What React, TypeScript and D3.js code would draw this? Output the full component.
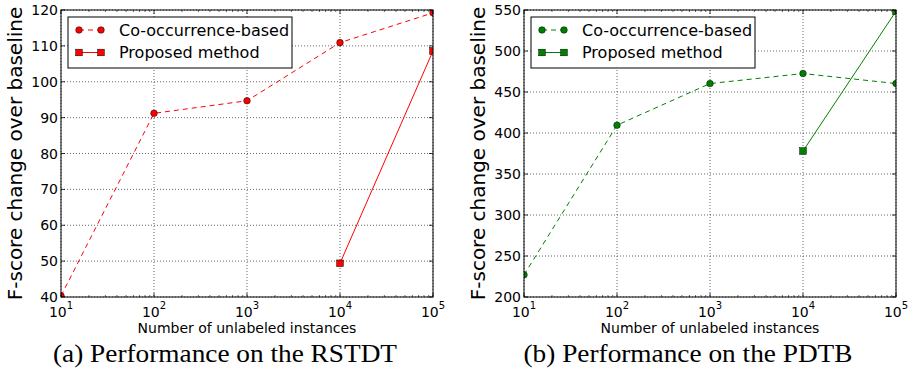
import React from 'react';
import * as d3 from 'd3';

// x positions: number of unlabeled instances (log scale)
const instanceCounts = [10, 100, 1000, 10000, 100000];
const xTickExponents = [1, 2, 3, 4, 5];
const proposedCounts = [10000, 100000];

// (a) RSTDT
const rstdtCooccurrence = [40.3, 91.2, 94.7, 110.9, 119.2];
const rstdtProposed = [49.4, 108.6];
const rstdtYTicks = [40, 50, 60, 70, 80, 90, 100, 110, 120];

// (b) PDTB
const pdtbCooccurrence = [227, 409.5, 460.3, 472.5, 460.3];
const pdtbProposed = [378, 548.5];
const pdtbYTicks = [200, 250, 300, 350, 400, 450, 500, 550];

const seriesLabels = ['Co-occurrence-based', 'Proposed method'];
const captions = ['(a) Performance on the RSTDT', '(b) Performance on the PDTB'];
const xLabel = 'Number of unlabeled instances';
const yLabel = 'F-score change over baseline';

const SANS = 'DejaVu Sans, sans-serif';
const SERIF = 'Liberation Serif, DejaVu Serif, serif';

interface PanelProps {
  id: string;
  left: number;
  color: string;
  cooc: number[];
  proposed: number[];
  yTicks: number[];
  caption: string;
  captionX: number;
  captionWidth: number;
}

const Panel: React.FC<PanelProps> = ({ id, left, color, cooc, proposed, yTicks, caption, captionX, captionWidth }) => {
  const top = 10;
  const width = 372;
  const height = 287;
  const right = left + width;
  const bottom = top + height;

  const x = d3.scaleLog().domain([10, 100000]).range([left, right]);
  const y = d3.scaleLinear().domain([yTicks[0], yTicks[yTicks.length - 1]]).range([bottom, top]);

  const minorTicks: number[] = [];
  for (let e = 1; e < 5; e++) {
    for (let m = 2; m <= 9; m++) minorTicks.push(m * Math.pow(10, e));
  }

  const coocLine = d3.line<number>()
    .x((_, i) => x(instanceCounts[i]))
    .y(d => y(d))(cooc) as string;
  const propLine = d3.line<number>()
    .x((_, i) => x(proposedCounts[i]))
    .y(d => y(d))(proposed) as string;

  const clipId = `clip-${id}`;
  const legX = left + 7;
  const legY = top + 7;
  const legW = 224;
  const legH = 51;
  const rows = [legY + 13, legY + 35.5];

  return (
    <g>
      <defs>
        <clipPath id={clipId}>
          <rect x={left} y={top} width={width} height={height} />
        </clipPath>
      </defs>

      {/* grid */}
      {xTickExponents.map(e => (
        <line key={`gx${e}`} x1={x(Math.pow(10, e))} x2={x(Math.pow(10, e))} y1={top} y2={bottom}
          stroke="#000" strokeWidth={0.6} strokeDasharray="1,2" />
      ))}
      {yTicks.map(t => (
        <line key={`gy${t}`} x1={left} x2={right} y1={y(t)} y2={y(t)}
          stroke="#000" strokeWidth={0.6} strokeDasharray="1,2" />
      ))}

      {/* data */}
      <g clipPath={`url(#${clipId})`}>
        <path d={coocLine} fill="none" stroke={color} strokeWidth={1} strokeDasharray="5,4" />
        <path d={propLine} fill="none" stroke={color} strokeWidth={1} />
        {cooc.map((d, i) => (
          <circle key={`c${i}`} cx={x(instanceCounts[i])} cy={y(d)} r={3.3}
            fill={color} stroke="#000" strokeWidth={0.5} />
        ))}
        {proposed.map((d, i) => (
          <rect key={`s${i}`} x={x(proposedCounts[i]) - 3.3} y={y(d) - 3.3} width={6.6} height={6.6}
            fill={color} stroke="#000" strokeWidth={0.5} />
        ))}
      </g>

      {/* ticks, inward on all sides */}
      {xTickExponents.map(e => {
        const px = x(Math.pow(10, e));
        return (
          <g key={`tx${e}`}>
            <line x1={px} x2={px} y1={bottom} y2={bottom - 4} stroke="#000" strokeWidth={0.8} />
            <line x1={px} x2={px} y1={top} y2={top + 4} stroke="#000" strokeWidth={0.8} />
            <text x={px} y={317} textAnchor="middle" fontFamily={SANS} fontSize={14} fill="#000">
              10<tspan fontSize={10} dy={-8}>{e}</tspan>
            </text>
          </g>
        );
      })}
      {minorTicks.map(t => (
        <g key={`mx${t}`}>
          <line x1={x(t)} x2={x(t)} y1={bottom} y2={bottom - 2} stroke="#000" strokeWidth={0.6} />
          <line x1={x(t)} x2={x(t)} y1={top} y2={top + 2} stroke="#000" strokeWidth={0.6} />
        </g>
      ))}
      {yTicks.map(t => (
        <g key={`ty${t}`}>
          <line x1={left} x2={left + 4} y1={y(t)} y2={y(t)} stroke="#000" strokeWidth={0.8} />
          <line x1={right} x2={right - 4} y1={y(t)} y2={y(t)} stroke="#000" strokeWidth={0.8} />
          <text x={left - 3} y={y(t)} dy="0.36em" textAnchor="end" fontFamily={SANS} fontSize={14} fill="#000">
            {t}
          </text>
        </g>
      ))}

      {/* frame */}
      <rect x={left} y={top} width={width} height={height} fill="none" stroke="#000" strokeWidth={1} />

      {/* legend */}
      <rect x={legX} y={legY} width={legW} height={legH} fill="#fff" stroke="#000" strokeWidth={1} />
      <line x1={legX + 11} x2={legX + 33} y1={rows[0]} y2={rows[0]} stroke={color} strokeWidth={1} strokeDasharray="5,4" />
      <circle cx={legX + 11} cy={rows[0]} r={3.3} fill={color} stroke="#000" strokeWidth={0.5} />
      <circle cx={legX + 33} cy={rows[0]} r={3.3} fill={color} stroke="#000" strokeWidth={0.5} />
      <line x1={legX + 11} x2={legX + 33} y1={rows[1]} y2={rows[1]} stroke={color} strokeWidth={1} />
      <rect x={legX + 11 - 3.3} y={rows[1] - 3.3} width={6.6} height={6.6} fill={color} stroke="#000" strokeWidth={0.5} />
      <rect x={legX + 33 - 3.3} y={rows[1] - 3.3} width={6.6} height={6.6} fill={color} stroke="#000" strokeWidth={0.5} />
      {seriesLabels.map((s, i) => (
        <text key={s} x={legX + 51} y={rows[i]} dy="0.36em" fontFamily={SANS} fontSize={16} fill="#000">{s}</text>
      ))}

      {/* axis labels */}
      <text x={(left + right) / 2} y={333} textAnchor="middle" fontFamily={SANS} fontSize={14} fill="#000">{xLabel}</text>
      <text transform={`translate(${left - 39},${(top + bottom) / 2}) rotate(-90)`} textAnchor="middle"
        fontFamily={SANS} fontSize={20} fill="#000">{yLabel}</text>

      {/* caption */}
      <text x={captionX} y={362} textAnchor="middle" fontFamily={SERIF} fontSize={26} fill="#000"
        textLength={captionWidth} lengthAdjust="spacingAndGlyphs">{caption}</text>
    </g>
  );
};

const App: React.FC = () => (
  <svg width={911} height={370} style={{ position: 'absolute', left: 0, top: 0, background: '#fff' }}>
    <Panel id="a" left={61} color="#ff0000" cooc={rstdtCooccurrence} proposed={rstdtProposed}
      yTicks={rstdtYTicks} caption={captions[0]} captionX={225} captionWidth={344} />
    <Panel id="b" left={524} color="#008000" cooc={pdtbCooccurrence} proposed={pdtbProposed}
      yTicks={pdtbYTicks} caption={captions[1]} captionX={688} captionWidth={329} />
  </svg>
);

export default App;
